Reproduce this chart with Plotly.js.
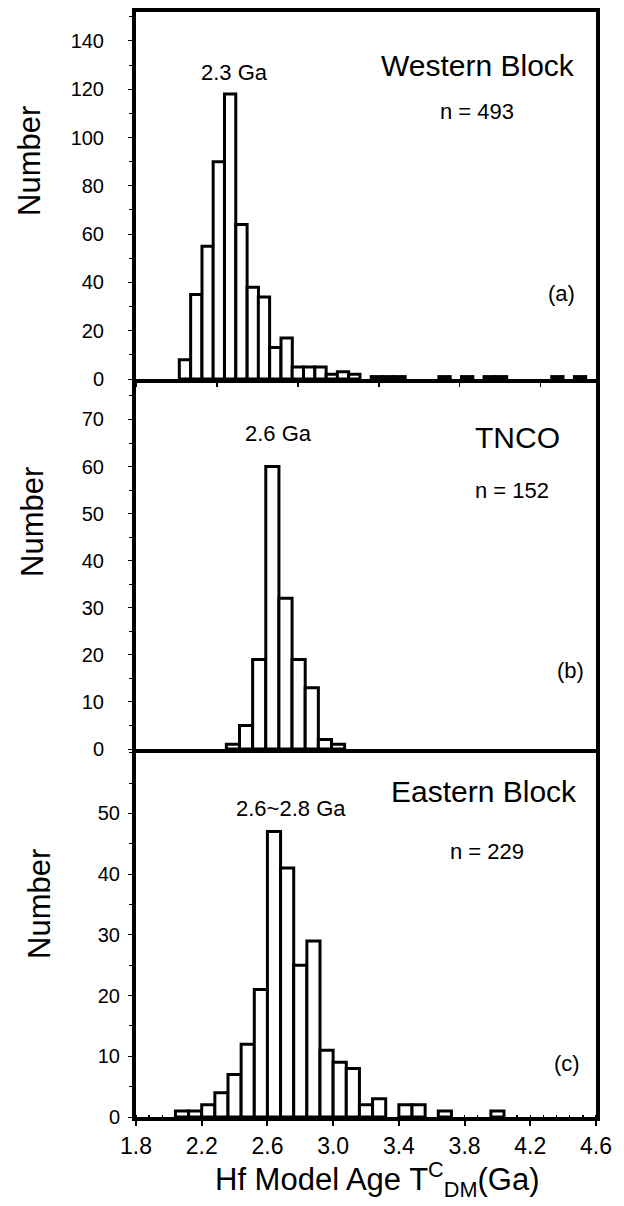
<!DOCTYPE html>
<html>
<head>
<meta charset="utf-8">
<script src="https://cdn.plot.ly/plotly-3.0.1.min.js"></script>
<style>html,body{margin:0;padding:0;background:#fff;}#chart{width:624px;height:1206px;}</style>
</head>
<body>
<div id="chart"></div>
<script>
// ---- Data ----
// (a) Western Block, n = 493
const westernAge = [2.098, 2.167, 2.236, 2.304, 2.373, 2.442, 2.511, 2.579, 2.648, 2.717, 2.785, 2.854, 2.923, 2.992, 3.060, 3.129, 3.266, 3.335, 3.404, 3.678, 3.816, 3.953, 4.022, 4.365, 4.503];
const westernCount = [8, 35, 55, 90, 118, 64, 38, 34, 13, 17, 5, 5, 5, 2, 3, 2, 1, 1, 1, 1, 1, 1, 1, 1, 1];
const westernBinWidth = 0.0687;
// (b) TNCO, n = 152
const tncoAge = [2.39, 2.47, 2.55, 2.63, 2.71, 2.79, 2.87, 2.95, 3.03];
const tncoCount = [1, 5, 19, 60, 32, 19, 13, 2, 1];
const tncoBinWidth = 0.08;
// (c) Eastern Block, n = 229
const easternAge = [2.08, 2.16, 2.24, 2.32, 2.40, 2.48, 2.56, 2.64, 2.72, 2.80, 2.88, 2.96, 3.04, 3.12, 3.20, 3.28, 3.44, 3.52, 3.68, 4.00];
const easternCount = [1, 1, 2, 4, 7, 12, 21, 47, 41, 25, 29, 11, 9, 8, 2, 3, 2, 2, 1, 1];
const easternBinWidth = 0.08;

// tick labels
const xTickVals = [1.8, 2.2, 2.6, 3.0, 3.4, 3.8, 4.2, 4.6];
const xTickText = ["1.8", "2.2", "2.6", "3.0", "3.4", "3.8", "4.2", "4.6"];
const yTicksA = [0, 20, 40, 60, 80, 100, 120, 140];
const yTicksB = [0, 10, 20, 30, 40, 50, 60, 70];
const yTicksC = [0, 10, 20, 30, 40, 50];

const FONT = "Liberation Sans, Arial, sans-serif";

function barTrace(x, y, w, xa, ya) {
  return {
    type: "bar", x: x, y: y, width: x.map(() => w),
    xaxis: xa, yaxis: ya,
    marker: { color: "#ffffff", line: { color: "#000000", width: 3 } },
    hoverinfo: "x+y"
  };
}

const traces = [
  barTrace(westernAge, westernCount, westernBinWidth, "x3", "y3"),
  barTrace(tncoAge, tncoCount, tncoBinWidth, "x2", "y2"),
  barTrace(easternAge, easternCount, easternBinWidth, "x", "y")
];

const xCommon = {
  range: [1.8, 4.6], showgrid: false, zeroline: false,
  showline: true, linewidth: 4, linecolor: "#000", mirror: false,
  tickcolor: "#000"
};
const yCommon = {
  showgrid: false, zeroline: false, showline: true, linewidth: 4, linecolor: "#000",
  mirror: true, ticks: "outside", ticklen: 4, tickwidth: 1, tickcolor: "#000",
  tickfont: { family: FONT, size: 20, color: "#000" }
};

const cTop = 0.33303, bTop = 0.66787;

// pixel -> paper helpers for text placement
const px = v => (v - 136) / 460;
const py = v => (1117 - v) / 1105;

const notes = [
  { text: "2.3 Ga", x: 234, y: 72, size: 22 },
  { text: "Western Block", x: 478, y: 65, size: 30 },
  { text: "n = 493", x: 477, y: 111, size: 22 },
  { text: "(a)", x: 561, y: 293, size: 22 },
  { text: "2.6 Ga", x: 278, y: 433, size: 22 },
  { text: "TNCO", x: 517, y: 438, size: 30 },
  { text: "n = 152", x: 512, y: 490, size: 22 },
  { text: "(b)", x: 570, y: 670, size: 22 },
  { text: "Eastern Block", x: 484, y: 792, size: 30 },
  { text: "2.6~2.8 Ga", x: 291, y: 808, size: 22 },
  { text: "n = 229", x: 487, y: 851, size: 22 },
  { text: "(c)", x: 567, y: 1063, size: 22 }
];
const yTitles = [
  { x: 30, y: 161 }, { x: 32, y: 522 }, { x: 39, y: 904 }
];

const annotations = notes.map(a => ({
  text: a.text, x: px(a.x), y: py(a.y), xref: "paper", yref: "paper",
  xanchor: "center", yanchor: "middle", showarrow: false,
  font: { family: FONT, size: a.size, color: "#000" }
})).concat(yTitles.map(t => ({
  text: "Number", x: px(t.x), y: py(t.y), xref: "paper", yref: "paper",
  xanchor: "center", yanchor: "middle", textangle: -90, showarrow: false,
  font: { family: FONT, size: 31, color: "#000" }
}))).concat([{
  text: "Hf Model Age T<sup>C</sup><sub>DM</sub>(Ga)", x: px(213), y: py(1204),
  xref: "paper", yref: "paper", xanchor: "left", yanchor: "bottom", showarrow: false,
  font: { family: FONT, size: 31, color: "#000" }
}]);

const layout = {
  width: 624, height: 1206,
  margin: { l: 136, r: 28, t: 12, b: 89 },
  paper_bgcolor: "#fff", plot_bgcolor: "#fff",
  showlegend: false, bargap: 0,
  xaxis: Object.assign({}, xCommon, {
    domain: [0, 1], anchor: "y",
    tickmode: "array", tickvals: xTickVals, ticktext: xTickText,
    ticks: "outside", ticklen: 5, tickwidth: 2,
    tickfont: { family: FONT, size: 23, color: "#000" },
    minor: { tickmode: "linear", tick0: 1.8, dtick: 0.08, ticks: "inside", ticklen: 2, tickwidth: 1.5, tickcolor: "#000" }
  }),
  xaxis2: Object.assign({}, xCommon, { domain: [0, 1], anchor: "y2", matches: "x", ticks: "", showticklabels: false }),
  xaxis3: Object.assign({}, xCommon, {
    domain: [0, 1], anchor: "y3", matches: "x", mirror: true, layer: "below traces",
    tickmode: "linear", tick0: 2.293, dtick: 0.4925, ticks: "outside", ticklen: 4, tickwidth: 1.5,
    showticklabels: false
  }),
  yaxis: Object.assign({}, yCommon, {
    domain: [0, cTop], anchor: "x", range: [0, 60.6],
    tickmode: "array", tickvals: yTicksC, ticktext: yTicksC.map(String), ticklabelstandoff: 4,
    minor: { tickmode: "linear", tick0: 0, dtick: 5, ticks: "outside", ticklen: 3, tickcolor: "#000" }
  }),
  yaxis2: Object.assign({}, yCommon, {
    domain: [cTop, bTop], anchor: "x2", range: [0, 78.6],
    tickmode: "array", tickvals: yTicksB, ticktext: yTicksB.map(String), ticklabelstandoff: 20,
    minor: { tickmode: "linear", tick0: 0, dtick: 5, ticks: "outside", ticklen: 3, tickcolor: "#000" }
  }),
  yaxis3: Object.assign({}, yCommon, {
    domain: [bTop, 1], anchor: "x3", range: [0, 152],
    tickmode: "array", tickvals: yTicksA, ticktext: yTicksA.map(String), ticklabelstandoff: 20,
    minor: { tickmode: "linear", tick0: 0, dtick: 10, ticks: "outside", ticklen: 3, tickcolor: "#000" }
  }),
  annotations: annotations
};

Plotly.newPlot("chart", traces, layout, { displayModeBar: false, staticPlot: true });
</script>
</body>
</html>
